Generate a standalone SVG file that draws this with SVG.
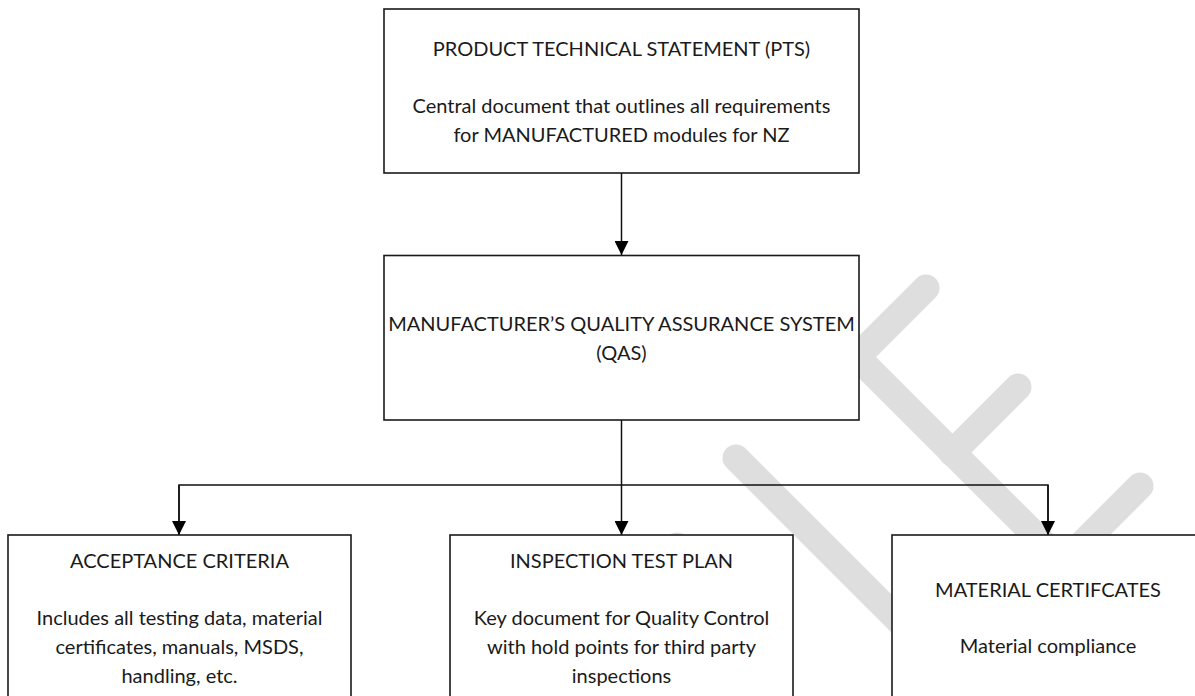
<svg xmlns="http://www.w3.org/2000/svg" width="1195" height="696" viewBox="0 0 1195 696">
<style>
.box{fill:#ffffff;stroke:#1a1a1a;stroke-width:1.6}
.wm{fill:none;stroke:#dedede;stroke-width:27;stroke-linecap:round;stroke-linejoin:miter}
.conn{fill:none;stroke:#111111;stroke-width:1.5}
text{font-family:Lato,"Open Sans","Liberation Sans",sans-serif;font-size:20px;fill:#1a1a1a;text-anchor:middle}
</style>
<defs>
<marker id="arr" markerUnits="userSpaceOnUse" markerWidth="14" markerHeight="14" viewBox="0 0 14 14" refX="14" refY="7" orient="auto">
<path d="M0,0 L14,7 L0,14 Z" fill="#000000"/>
</marker>
</defs>
<rect width="1195" height="696" fill="#ffffff"/>
<g id="watermark">
<path class="wm" d="M926,288 L857,357 L1090,590"/>
<path class="wm" d="M1018,387 L952,453"/>
<path class="wm" d="M1140,486 L1070,556"/>
<path class="wm" d="M736,458 L930,652"/>
<path class="wm" d="M677,546 L620,603"/>
</g>
<g id="connectors">
<line class="conn" x1="621.5" y1="173" x2="621.5" y2="255" marker-end="url(#arr)"/>
<line class="conn" x1="621.5" y1="420" x2="621.5" y2="535" marker-end="url(#arr)"/>
<polyline class="conn" points="179,535 179,485 1048,485 1048,535"/>
<line class="conn" x1="179" y1="485" x2="179" y2="535" marker-end="url(#arr)"/>
<line class="conn" x1="1048" y1="485" x2="1048" y2="535" marker-end="url(#arr)"/>
</g>
<g id="pts">
<rect class="box" x="384" y="9" width="475" height="164"/>
<text x="621.5" y="56">PRODUCT TECHNICAL STATEMENT (PTS)</text>
<text x="621.5" y="113">Central document that outlines all requirements</text>
<text x="621.5" y="142">for MANUFACTURED modules for NZ</text>
</g>
<g id="qas">
<rect class="box" x="384" y="255.5" width="475" height="164.5"/>
<text x="621.5" y="331">MANUFACTURER’S QUALITY ASSURANCE SYSTEM</text>
<text x="621.5" y="360">(QAS)</text>
</g>
<g id="acceptance">
<rect class="box" x="8" y="535" width="343" height="170"/>
<text x="179.5" y="568">ACCEPTANCE CRITERIA</text>
<text x="179.5" y="625">Includes all testing data, material</text>
<text x="179.5" y="654">certificates, manuals, MSDS,</text>
<text x="179.5" y="683">handling, etc.</text>
</g>
<g id="itp">
<rect class="box" x="450" y="535" width="343" height="170"/>
<text x="621.5" y="568">INSPECTION TEST PLAN</text>
<text x="621.5" y="625">Key document for Quality Control</text>
<text x="621.5" y="654">with hold points for third party</text>
<text x="621.5" y="683">inspections</text>
</g>
<g id="material">
<rect class="box" x="892" y="535" width="320" height="170"/>
<text x="1048" y="597">MATERIAL CERTIFCATES</text>
<text x="1048" y="653">Material compliance</text>
</g>
</svg>
